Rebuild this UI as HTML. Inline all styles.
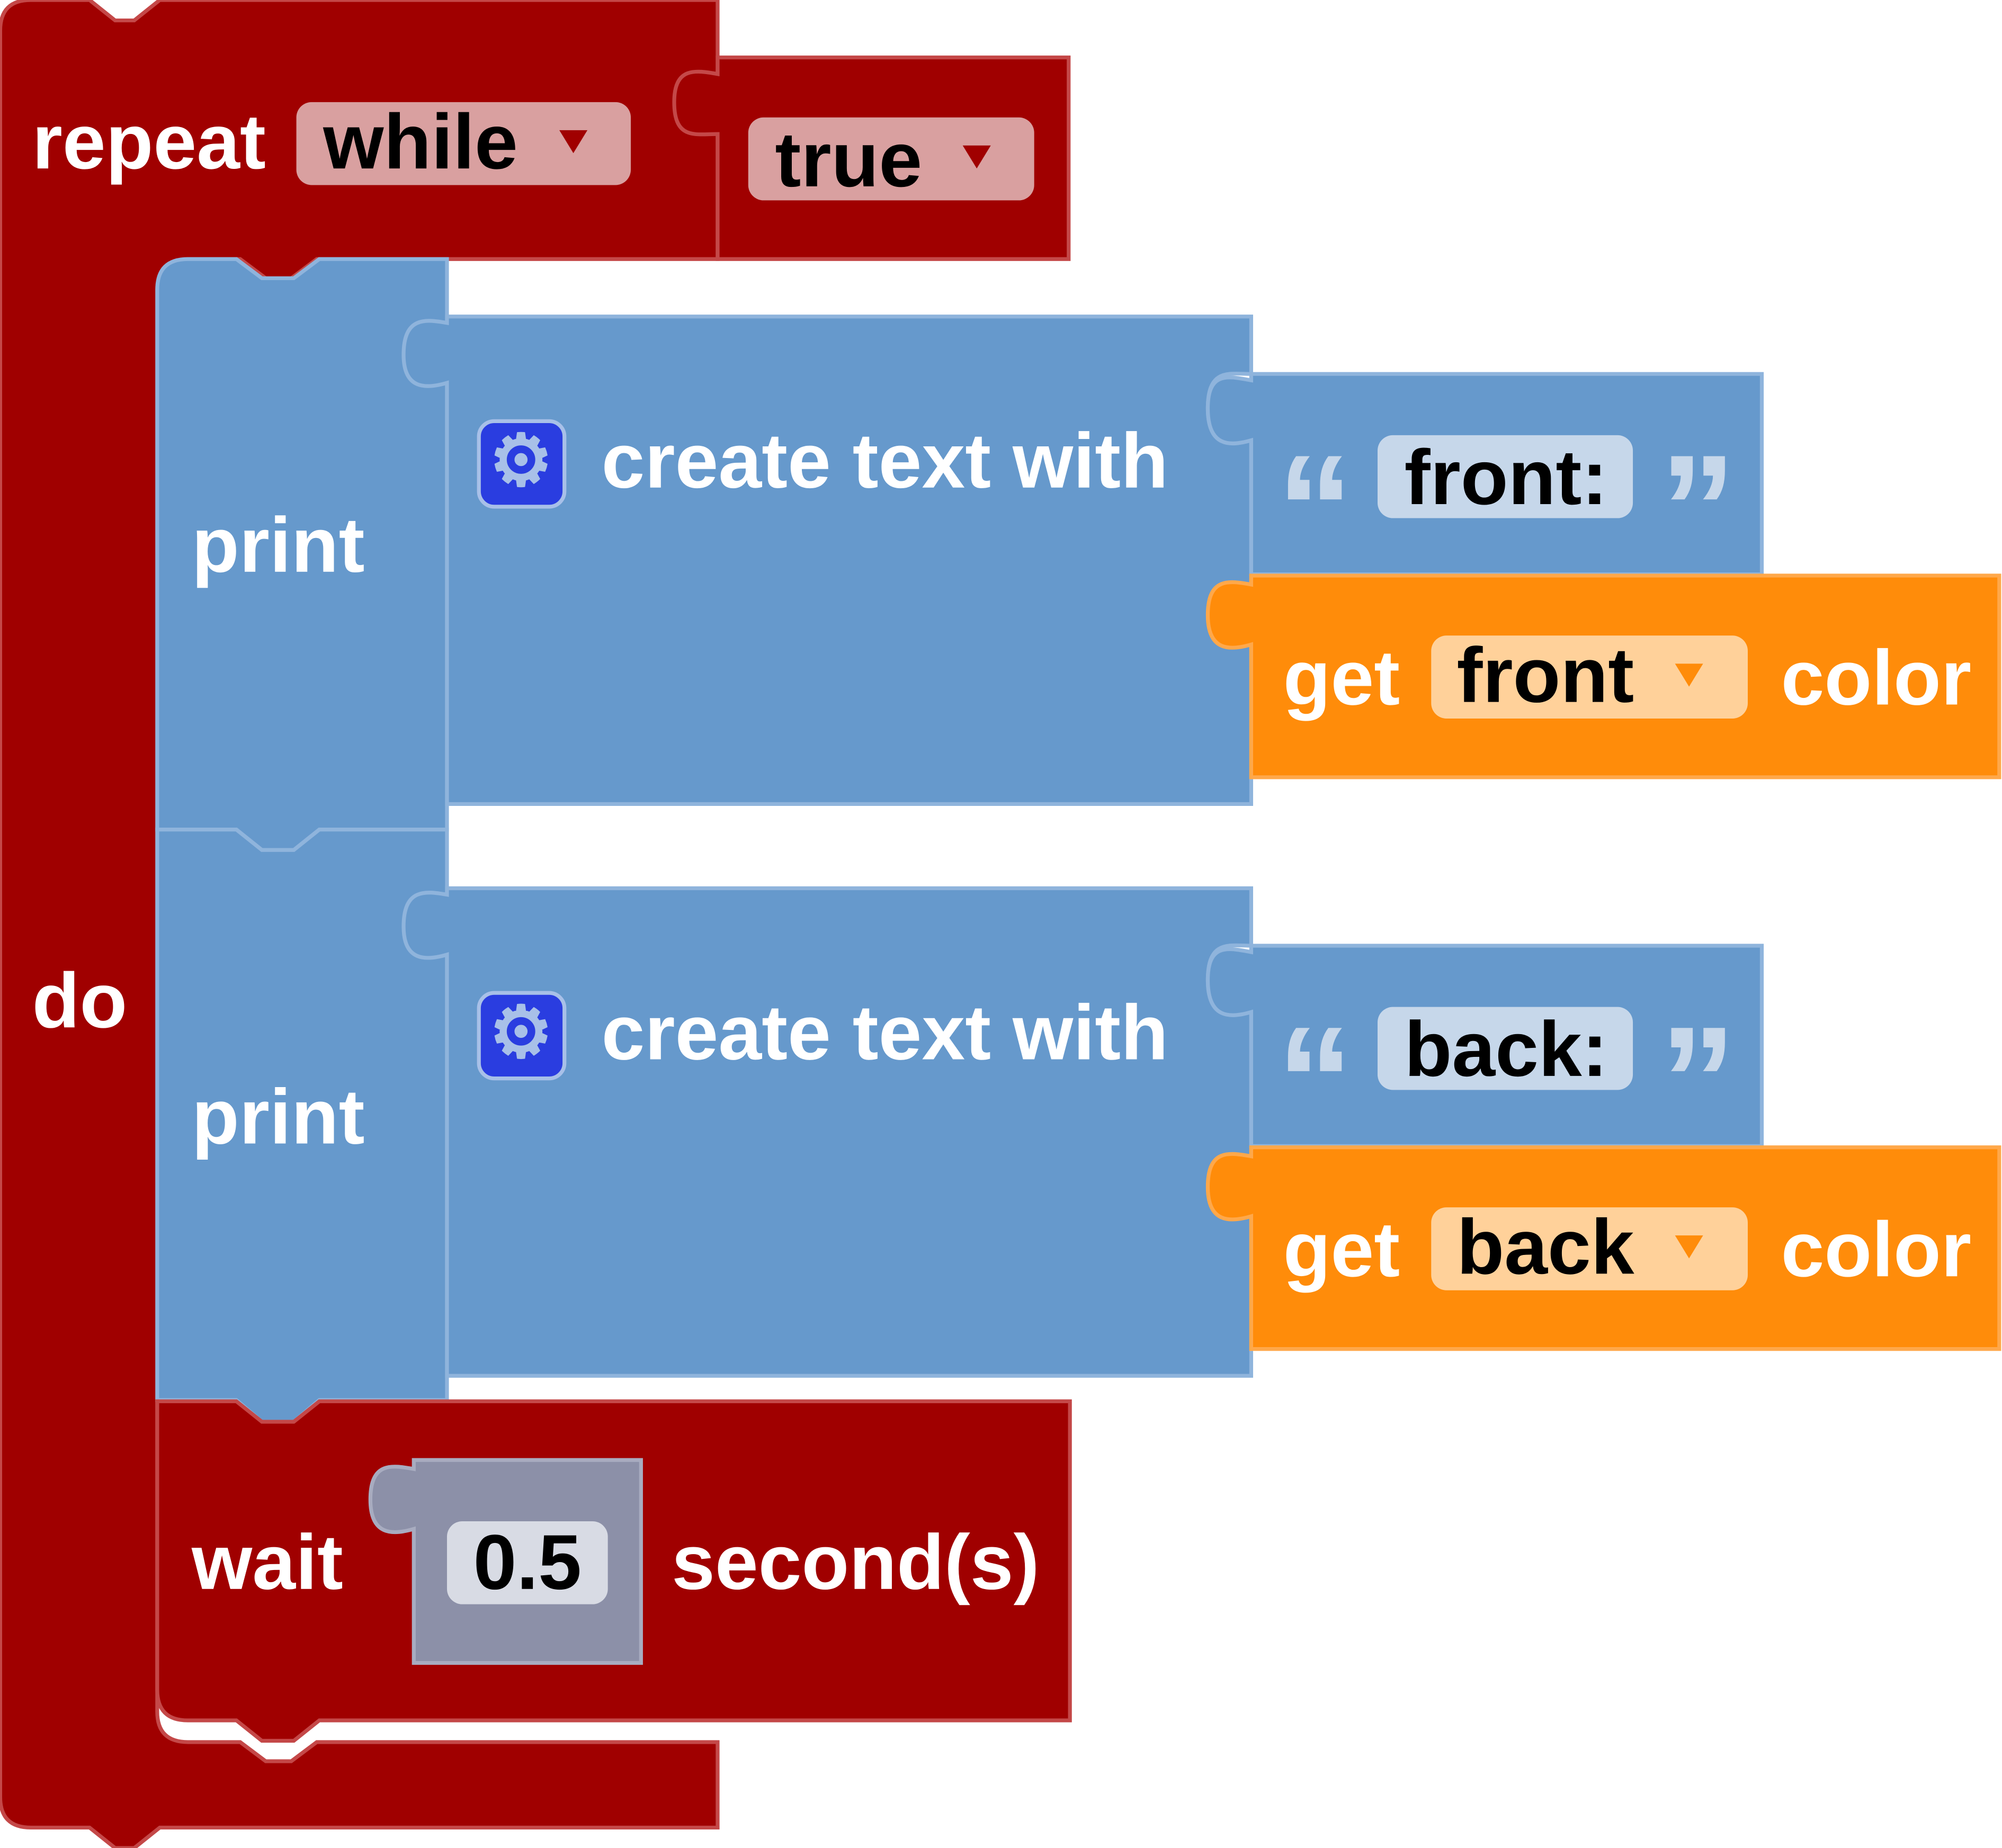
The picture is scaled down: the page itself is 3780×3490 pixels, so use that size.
<!DOCTYPE html>
<html><head><meta charset="utf-8"><style>
html,body{margin:0;padding:0;background:#fff;}
svg{display:block}
text{font-family:"Liberation Sans",Arial,sans-serif;font-weight:bold;}
</style></head><body>
<svg width="3780" height="3490" viewBox="0 0 1568 1448" xmlns="http://www.w3.org/2000/svg">
<path d="M0,24 Q0,0 24,0 H70 L90,16 H105 L125,0 H562 V203 H248 L228,218 H208 L188,203 H147 Q123,203 123,227 V1341 Q123,1365 147,1365 H188 L208,1380 H228 L248,1365 H562 V1432 H125 L105,1448 H90 L70,1432 H24 Q0,1432 0,1408 Z" fill="#a00000" stroke="#c44848" stroke-width="3"/>
<path d="M562,45 H837 V203 H562 V105 C545,105 528,110 528,80 C528,52 545,55 562,58 Z" fill="#a00000" stroke="#c44848" stroke-width="3"/>
<text x="25" y="132" font-size="61" fill="#fff">repeat</text>
<rect x="232" y="80" width="262" height="65" rx="12" fill="#d9a0a0"/>
<text x="253" y="132" font-size="61" fill="#000">while</text>
<path d="M438,102 L460,102 L449,120 Z" fill="#a00000"/>
<rect x="586" y="92" width="224" height="65" rx="12" fill="#d9a0a0"/>
<text x="607" y="146" font-size="61" fill="#000">true</text>
<path d="M754,114 L776,114 L765,132 Z" fill="#a00000"/>
<text x="25" y="805" font-size="61" fill="#fff">do</text>

<path d="M123,227 Q123,203 147,203 H185 L205,218 H230 L250,203 H350 V650 H250 L230,666 H205 L185,650 H123 Z" fill="#6699cc" stroke="#8fb4dc" stroke-width="3"/>
<text x="150" y="448" font-size="61" fill="#fff">print</text>
<path d="M350,248 H980 V293 C963,293 946,288 946,320 C946,350 963,345 980,340 V630 H350 V300 C333,305 316,305 316,278 C316,248 333,250 350,253 Z" fill="#6699cc" stroke="#8fb4dc" stroke-width="3"/>
<rect x="375" y="330" width="67" height="67" rx="12" fill="#2a3de0" stroke="#a8c0e8" stroke-width="3"/>
<text x="408" y="380" font-size="56" fill="#a8c0e8" text-anchor="middle">⚙</text>
<text x="471" y="382" font-size="61" fill="#fff">create text with</text>
<path d="M980,293 H1380 V450 H980 V345 C963,350 946,350 946,320 C946,290 963,295 980,298 Z" fill="#6699cc" stroke="#8fb4dc" stroke-width="3"/>
<text x="1000" y="440" font-size="120" fill="#c6d7ea">“</text>
<rect x="1079" y="341" width="200" height="65" rx="12" fill="#c6d7ea"/>
<text x="1100" y="395" font-size="61" fill="#000">front:</text>
<text x="1300" y="440" font-size="120" fill="#c6d7ea">”</text>
<path d="M980,451 H1566 V609 H980 V505 C963,510 946,510 946,482 C946,452 963,455 980,458 Z" fill="#ff8c0a" stroke="#ffa84a" stroke-width="3"/>
<text x="1005" y="552" font-size="61" fill="#fff">get</text>
<rect x="1121" y="498" width="248" height="65" rx="12" fill="#ffd19a"/>
<text x="1141" y="550" font-size="61" fill="#000">front</text>
<path d="M1312,520 L1334,520 L1323,538 Z" fill="#ff8c0a"/>
<text x="1395" y="552" font-size="61" fill="#fff">color</text>

<path d="M123,650 H185 L205,666 H230 L250,650 H350 V1097 H250 L230,1114 H205 L185,1097 H123 Z" fill="#6699cc" stroke="#8fb4dc" stroke-width="3"/>
<text x="150" y="896" font-size="61" fill="#fff">print</text>
<path d="M350,696 H980 V741 C963,741 946,736 946,768 C946,798 963,793 980,788 V1078 H350 V748 C333,753 316,753 316,726 C316,696 333,698 350,701 Z" fill="#6699cc" stroke="#8fb4dc" stroke-width="3"/>
<rect x="375" y="778" width="67" height="67" rx="12" fill="#2a3de0" stroke="#a8c0e8" stroke-width="3"/>
<text x="408" y="828" font-size="56" fill="#a8c0e8" text-anchor="middle">⚙</text>
<text x="471" y="830" font-size="61" fill="#fff">create text with</text>
<path d="M980,741 H1380 V898 H980 V793 C963,798 946,798 946,768 C946,738 963,743 980,746 Z" fill="#6699cc" stroke="#8fb4dc" stroke-width="3"/>
<text x="1000" y="888" font-size="120" fill="#c6d7ea">“</text>
<rect x="1079" y="789" width="200" height="65" rx="12" fill="#c6d7ea"/>
<text x="1100" y="843" font-size="61" fill="#000">back:</text>
<text x="1300" y="888" font-size="120" fill="#c6d7ea">”</text>
<path d="M980,899 H1566 V1057 H980 V953 C963,958 946,958 946,930 C946,900 963,903 980,906 Z" fill="#ff8c0a" stroke="#ffa84a" stroke-width="3"/>
<text x="1005" y="1000" font-size="61" fill="#fff">get</text>
<rect x="1121" y="946" width="248" height="65" rx="12" fill="#ffd19a"/>
<text x="1141" y="998" font-size="61" fill="#000">back</text>
<path d="M1312,968 L1334,968 L1323,986 Z" fill="#ff8c0a"/>
<text x="1395" y="1000" font-size="61" fill="#fff">color</text>

<path d="M123,1098 H185 L205,1114 H230 L250,1098 H838 V1348 H250 L230,1364 H205 L185,1348 H147 Q123,1348 123,1324 Z" fill="#a00000" stroke="#c44848" stroke-width="3"/>
<text x="150" y="1245" font-size="61" fill="#fff">wait</text>
<path d="M324,1144 H502 V1303 H324 V1198 C307,1203 290,1203 290,1175 C290,1145 307,1148 324,1151 Z" fill="#8c90a8" stroke="#a8acc0" stroke-width="3"/>
<rect x="350" y="1192" width="126" height="65" rx="12" fill="#d8dbe4"/>
<text x="413" y="1245" font-size="61" fill="#000" text-anchor="middle">0.5</text>
<text x="526" y="1245" font-size="61" fill="#fff">second(s)</text>
</svg>
</body></html>
